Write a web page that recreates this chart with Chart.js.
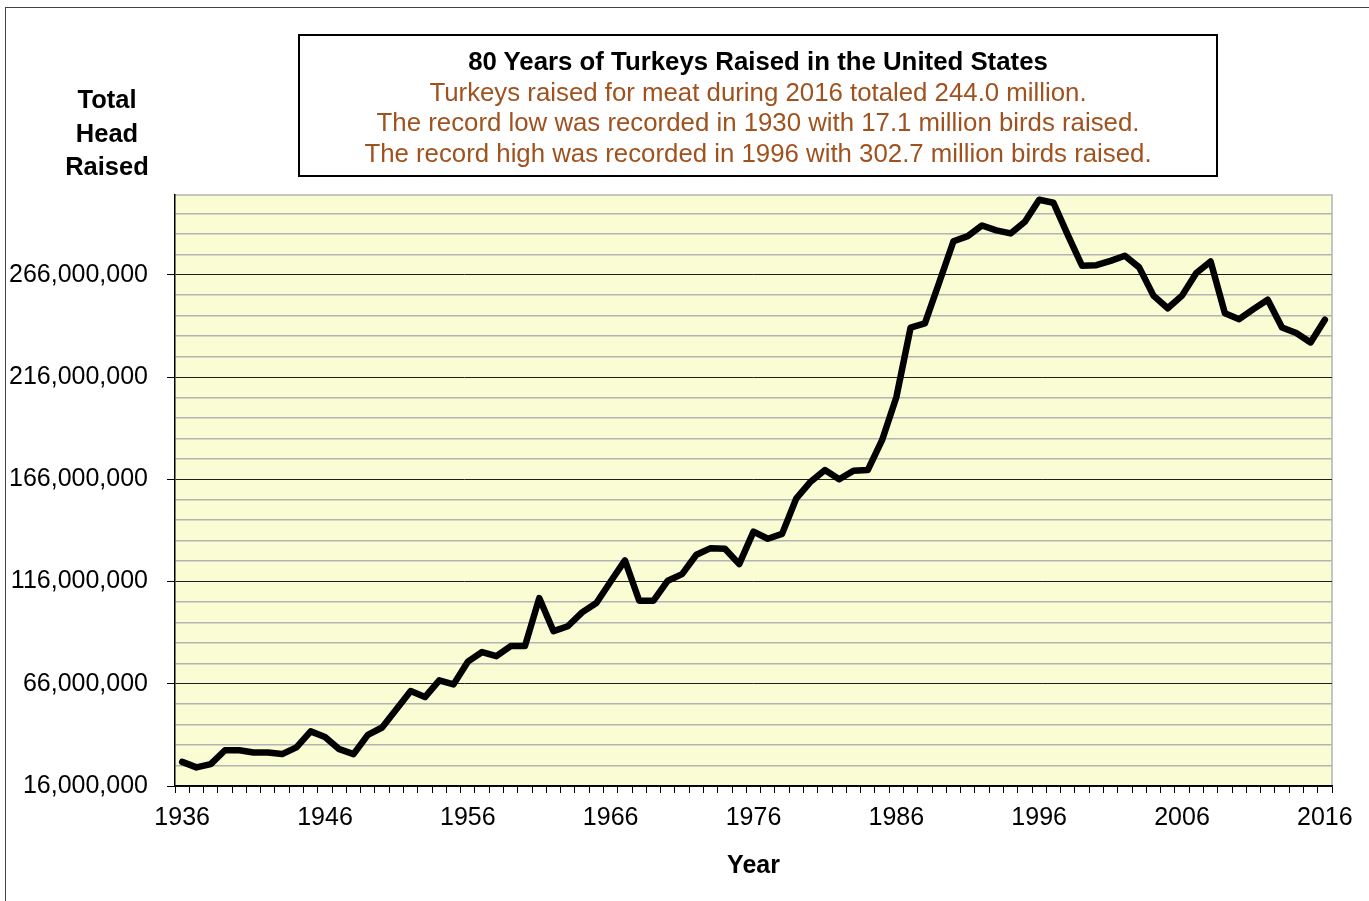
<!DOCTYPE html>
<html>
<head>
<meta charset="utf-8">
<script src="https://cdn.jsdelivr.net/npm/chart.js@4"></script>
<style>
  body { margin: 0; background: #fff; overflow: hidden; font-family: "Liberation Sans", Arial, sans-serif; }
  #wrap { position: absolute; left: 0; top: 0; width: 1369px; height: 901px; }
  #frame { position: absolute; left: 5px; top: 7px; width: 1400px; height: 1000px; border: 1px solid #444; box-sizing: border-box; }
  #titleBox {
    position: absolute; left: 298px; top: 34px; width: 920px; height: 143px;
    border: 2px solid #000; box-sizing: border-box; text-align: center;
    font-size: 25.8px; line-height: 30.7px; padding-top: 10px;
  }
  #titleBox .main { font-weight: bold; color: #000; }
  #titleBox .sub { color: #A0521E; }
  #yTitle {
    position: absolute; left: 47px; top: 83px; width: 120px; text-align: center;
    font-weight: bold; font-size: 25.5px; line-height: 33.5px; color: #000;
  }
</style>
</head>
<body>
<div id="frame"></div>
<div id="wrap"><canvas id="turkeyChart"></canvas></div>
<div id="titleBox">
  <div class="main">80 Years of Turkeys Raised in the United States</div>
  <div class="sub">Turkeys raised for meat during 2016 totaled 244.0 million.</div>
  <div class="sub">The record low was recorded in 1930 with 17.1 million birds raised.</div>
  <div class="sub">The record high was recorded in 1996 with 302.7 million birds raised.</div>
</div>
<div id="yTitle">Total<br>Head<br>Raised</div>
<script>
// years on the category axis
const years = [
  1936, 1937, 1938, 1939, 1940, 1941, 1942, 1943, 1944, 1945,
  1946, 1947, 1948, 1949, 1950, 1951, 1952, 1953, 1954, 1955,
  1956, 1957, 1958, 1959, 1960, 1961, 1962, 1963, 1964, 1965,
  1966, 1967, 1968, 1969, 1970, 1971, 1972, 1973, 1974, 1975,
  1976, 1977, 1978, 1979, 1980, 1981, 1982, 1983, 1984, 1985,
  1986, 1987, 1988, 1989, 1990, 1991, 1992, 1993, 1994, 1995,
  1996, 1997, 1998, 1999, 2000, 2001, 2002, 2003, 2004, 2005,
  2006, 2007, 2008, 2009, 2010, 2011, 2012, 2013, 2014, 2015,
  2016
];

// turkeys raised, millions of head
const headRaised = [
  27.8, 25.1, 26.7, 33.5, 33.5, 32.4, 32.4, 31.6, 34.9, 42.7,
  40.0, 34.0, 31.6, 41.0, 44.6, 53.5, 62.4, 59.5, 67.7, 65.7,
  76.8, 81.5, 79.5, 84.4, 84.4, 107.9, 91.7, 94.1, 100.9, 105.5,
  116.0, 126.3, 106.6, 106.6, 116.4, 119.6, 129.1, 132.3, 132.0, 124.5,
  140.4, 136.9, 139.3, 156.7, 164.8, 170.5, 166.0, 170.2, 170.5, 185.1,
  206.1, 240.2, 242.2, 262.2, 282.4, 284.9, 290.1, 287.7, 286.2, 291.9,
  302.7, 301.2, 285.5, 270.4, 270.7, 272.8, 275.3, 269.6, 255.8, 249.6,
  255.8, 266.9, 272.5, 247.2, 244.3, 249.2, 253.8, 240.2, 237.5, 232.9,
  244.0
];

// x labels shown every ten years
const yearLabels = [1936, 1946, 1956, 1966, 1976, 1986, 1996, 2006, 2016];

// y axis in millions: labelled lines and the minor lines between them
const majorTicks = [16, 66, 116, 166, 216, 266];
const minorTicks = [26, 36, 46, 56, 76, 86, 96, 106, 126, 136, 146, 156,
  176, 186, 196, 206, 226, 236, 246, 256, 276, 286, 296];
const yMin = 16;
const yMax = 305;

const plotBackground = {
  id: "plotBackground",
  beforeDraw(chart) {
    const { ctx, chartArea: a } = chart;
    ctx.save();
    ctx.fillStyle = "#FAFCD4";
    ctx.fillRect(a.left, a.top, a.right - a.left, a.bottom - a.top);
    ctx.strokeStyle = "#b4b4b4";
    ctx.lineWidth = 1.5;
    ctx.beginPath();
    ctx.moveTo(a.left, a.top);
    ctx.lineTo(a.right, a.top);
    ctx.lineTo(a.right, a.bottom);
    ctx.stroke();
    ctx.restore();
  }
};

const isMajor = (v) => majorTicks.includes(v);
const font = { family: "'Liberation Sans', Arial, sans-serif", size: 25 };

new Chart(document.getElementById("turkeyChart"), {
  type: "line",
  data: {
    labels: years,
    datasets: [
      {
        data: headRaised,
        borderColor: "#000",
        borderWidth: 6.5,
        borderCapStyle: "round",
        borderJoinStyle: "round",
        pointRadius: 0,
        tension: 0,
        fill: false
      }
    ]
  },
  options: {
    responsive: true,
    maintainAspectRatio: false,
    animation: false,
    layout: { padding: { left: 0, top: 195, right: 37, bottom: 0 } },
    plugins: {
      legend: { display: false },
      tooltip: { enabled: false }
    },
    scales: {
      x: {
        type: "category",
        offset: true,
        afterFit: (scale) => { scale.height = 115; },
        grid: {
          offset: true,
          drawOnChartArea: false,
          drawTicks: true,
          tickLength: 7,
          tickColor: "#000",
          tickWidth: 1
        },
        border: { display: true, color: "#000", width: 1.5 },
        ticks: {
          autoSkip: false,
          maxRotation: 0,
          padding: 10,
          color: "#000",
          font: font,
          callback: function (value) {
            const y = this.getLabelForValue(value);
            return yearLabels.includes(Number(y)) ? String(y) : "";
          }
        },
        title: {
          display: true,
          text: "Year",
          color: "#000",
          font: { family: font.family, size: 25, weight: "bold" },
          padding: { top: 0, bottom: 20 }
        }
      },
      y: {
        min: yMin,
        max: yMax,
        afterFit: (scale) => { scale.width = 175; },
        afterBuildTicks: (scale) => {
          scale.ticks = majorTicks.concat(minorTicks)
            .sort((a, b) => a - b)
            .map((v) => ({ value: v }));
        },
        grid: {
          color: (c) => (isMajor(c.tick.value) ? "#1e1e1e" : "#b4b4b4"),
          lineWidth: (c) => (isMajor(c.tick.value) ? 1 : 1.5),
          tickColor: (c) => (isMajor(c.tick.value) ? "#000" : "rgba(0,0,0,0)"),
          tickLength: 8,
          drawTicks: true
        },
        border: { display: true, color: "#000", width: 1.5 },
        ticks: {
          autoSkip: false,
          padding: 19,
          color: "#000",
          font: font,
          callback: (v) => (isMajor(v) ? (v * 1000000).toLocaleString("en-US") : "")
        }
      }
    }
  },
  plugins: [plotBackground]
});
</script>
</body>
</html>
